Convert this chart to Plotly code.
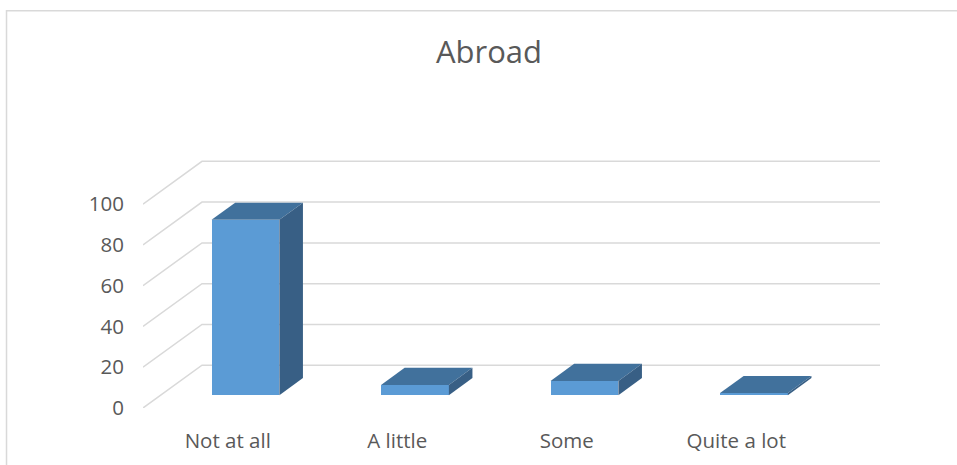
import plotly.graph_objects as go

# Survey answers for the "Abroad" question
categories = ["Not at all", "A little", "Some", "Quite a lot"]
values = [86, 5, 7, 1]
y_ticks = [0, 20, 40, 60, 80, 100]

# Oblique 3D projection: depth shifts points right (category units) and up (value units)
DEPTH_X = 0.348
DEPTH_Y = 21.0
BAR_FRONT = 0.30     # depth of the bar's front face (0 = front floor edge, 1 = back wall)
BAR_BACK = 0.70
BAR_WIDTH = 0.40

FRONT_COLOR = "#5B9BD5"
TOP_COLOR = "#41719C"
SIDE_COLOR = "#385F85"
GRID_COLOR = "#D9D9D9"
TEXT_COLOR = "#595959"

x_left = -0.5
x_right = len(categories) - 0.5 + DEPTH_X

fig = go.Figure()

# Front faces of the bars
fx = [i + BAR_FRONT * DEPTH_X for i in range(len(categories))]
fig.add_trace(go.Bar(
    x=fx, y=values, base=BAR_FRONT * DEPTH_Y, width=BAR_WIDTH,
    marker=dict(color=FRONT_COLOR, line=dict(width=0)),
    hoverinfo="skip", showlegend=False,
))

dx = (BAR_BACK - BAR_FRONT) * DEPTH_X
dy = (BAR_BACK - BAR_FRONT) * DEPTH_Y
b0 = BAR_FRONT * DEPTH_Y
for cx, v in zip(fx, values):
    xl, xr = cx - BAR_WIDTH / 2, cx + BAR_WIDTH / 2
    top = v + b0
    # top face
    fig.add_trace(go.Scatter(
        x=[xl, xr, xr + dx, xl + dx, xl],
        y=[top, top, top + dy, top + dy, top],
        mode="lines", fill="toself", fillcolor=TOP_COLOR,
        line=dict(width=0, color=TOP_COLOR), hoverinfo="skip", showlegend=False,
    ))
    # right side face
    fig.add_trace(go.Scatter(
        x=[xr, xr + dx, xr + dx, xr, xr],
        y=[b0, b0 + dy, top + dy, top, b0],
        mode="lines", fill="toself", fillcolor=SIDE_COLOR,
        line=dict(width=0, color=SIDE_COLOR), hoverinfo="skip", showlegend=False,
    ))

# Gridlines: slanted along the left wall, then horizontal along the back wall
shapes = []
for t in y_ticks:
    path = (f"M {x_left},{t} L {x_left + DEPTH_X},{t + DEPTH_Y} "
            f"L {x_right},{t + DEPTH_Y}")
    shapes.append(dict(type="path", path=path, xref="x", yref="y",
                       line=dict(color=GRID_COLOR, width=1.5), layer="below"))

# Outer chart frame
shapes.append(dict(type="rect", xref="paper", yref="paper",
                   x0=-0.1852, x1=1.3, y0=-0.4, y1=1.4989,
                   line=dict(color=GRID_COLOR, width=1.5), layer="below"))

fig.update_layout(
    width=957, height=465,
    margin=dict(l=143, r=77, t=143, b=57),
    paper_bgcolor="white", plot_bgcolor="white",
    font=dict(family="Open Sans", color=TEXT_COLOR, size=20),
    title=dict(text="Abroad", x=0.511, y=1 - 52 / 465, xref="container", yref="container",
               xanchor="center", yanchor="middle",
               font=dict(family="Open Sans", size=31, color=TEXT_COLOR)),
    xaxis=dict(range=[x_left, x_right], tickvals=list(range(len(categories))),
               ticktext=categories, showgrid=False, zeroline=False, showline=False,
               ticks="", ticklabelstandoff=18, fixedrange=True,
               tickfont=dict(size=20.5, color=TEXT_COLOR)),
    yaxis=dict(range=[0, 130], tickvals=y_ticks, showgrid=False, zeroline=False,
               showline=False, ticks="", ticklabelstandoff=18, fixedrange=True,
               tickfont=dict(size=20.5, color=TEXT_COLOR)),
    shapes=shapes,
    bargap=0,
    showlegend=False,
)

fig.write_html("out.html")
